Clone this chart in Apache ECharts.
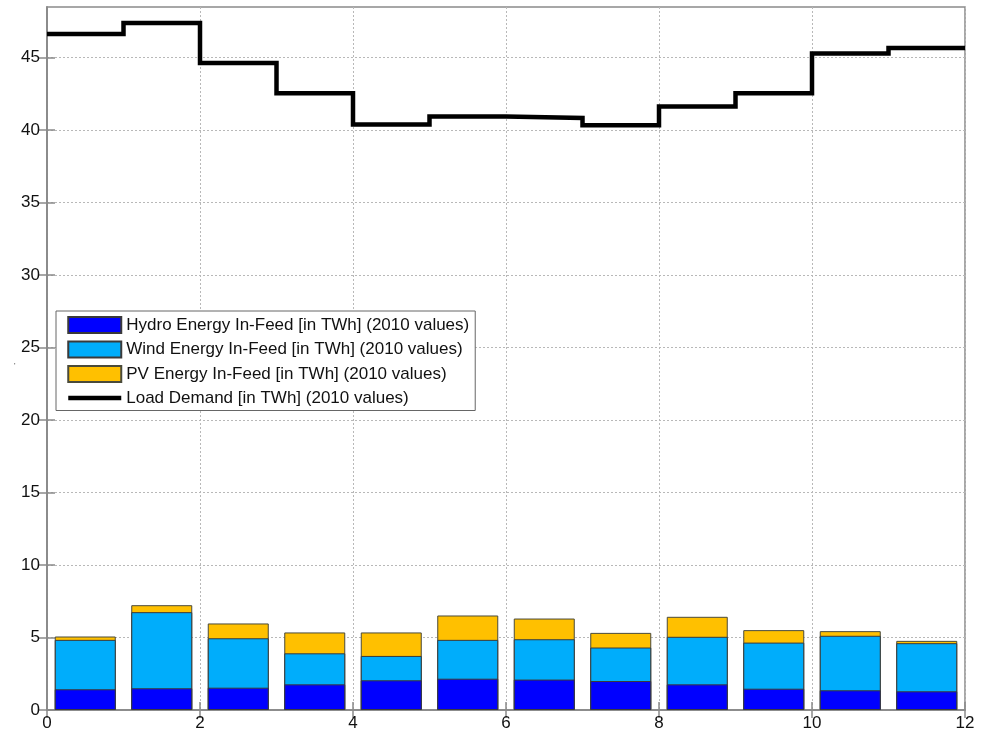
<!DOCTYPE html>
<html>
<head>
<meta charset="utf-8">
<script src="https://cdn.jsdelivr.net/npm/echarts@6/dist/echarts.min.js"></script>
<style>html,body{margin:0;padding:0;background:#fff;}#c{width:985px;height:734px;}</style>
</head>
<body>
<div id="c"></div>
<script>
const months = [0.5, 1.5, 2.5, 3.5, 4.5, 5.5, 6.5, 7.5, 8.5, 9.5, 10.5, 11.5];
const hydro = [1.43, 1.50, 1.54, 1.77, 2.05, 2.16, 2.10, 2.00, 1.77, 1.47, 1.36, 1.29];
const wind  = [3.41, 5.25, 3.41, 2.14, 1.68, 2.68, 2.78, 2.31, 3.28, 3.18, 3.76, 3.32];
const pv    = [0.23, 0.48, 1.02, 1.44, 1.62, 1.68, 1.43, 1.01, 1.38, 0.86, 0.32, 0.16];
const load  = [46.63, 47.39, 44.63, 42.55, 40.40, 40.94, 40.85, 40.34, 41.63, 42.55, 45.30, 45.68];
const yTicks = [0, 5, 10, 15, 20, 25, 30, 35, 40, 45];
const names = [
  'Hydro Energy In-Feed [in TWh] (2010 values)',
  'Wind Energy In-Feed [in TWh] (2010 values)',
  'PV Energy In-Feed [in TWh] (2010 values)',
  'Load Demand [in TWh] (2010 values)'
];

// step line: each month holds its value from month start to month end
const loadPts = [];
load.forEach((v, i) => { loadPts.push([i, v]); loadPts.push([i + 1, v]); });

// stacked tops (drawn as overlapping bars, tallest first)
const hydroTop = hydro.map(v => v);
const windTop = hydro.map((v, i) => v + wind[i]);
const pvTop = hydro.map((v, i) => v + wind[i] + pv[i]);
const pair = arr => months.map((m, i) => [m, +arr[i].toFixed(3)]);

const chart = echarts.init(document.getElementById('c'));
const axisGray = '#8a8a8a';
const font = 'Liberation Sans, Arial, sans-serif';
const barCommon = { type: 'bar', barWidth: 61, barGap: '-100%', xAxisIndex: 0, yAxisIndex: 0 };
const tickCommon = { show: true, inside: true, length: 8, lineStyle: { color: axisGray, width: 1.5 } };
chart.setOption({
  animation: false,
  backgroundColor: '#fff',
  grid: { left: 47, right: 20, top: 7, bottom: 24, show: true,
          borderColor: axisGray, borderWidth: 1.5, backgroundColor: 'transparent' },
  legend: {
    orient: 'vertical', left: 56, top: 311,
    padding: [5, 6, 4, 10],
    itemWidth: 53, itemHeight: 16, itemGap: 6.5,
    borderColor: '#666', borderWidth: 1, backgroundColor: '#fff',
    textStyle: { fontFamily: font, fontSize: 17, lineHeight: 17, color: '#111' },
    data: [
      { name: names[0], icon: 'rect' },
      { name: names[1], icon: 'rect' },
      { name: names[2], icon: 'rect' },
      { name: names[3],
        itemStyle: { color: 'rgba(0,0,0,0)', borderColor: 'rgba(0,0,0,0)', borderWidth: 0 },
        lineStyle: { color: '#000', width: 4.5 } }
    ]
  },
  xAxis: [{
    type: 'value', min: 0, max: 12, interval: 2,
    axisLine: { show: true, onZero: false, lineStyle: { color: axisGray, width: 1.5 } },
    axisTick: tickCommon,
    axisLabel: { fontFamily: font, fontSize: 17, color: '#111', margin: 5 },
    splitLine: { show: true, lineStyle: { type: [2, 2], color: '#b8b8b8', width: 1 } }
  }, {
    type: 'value', min: 0, max: 12, interval: 2, position: 'top',
    axisLine: { show: true, lineStyle: { color: axisGray, width: 1.5 } },
    axisTick: tickCommon,
    axisLabel: { show: false }, splitLine: { show: false }
  }],
  yAxis: [{
    type: 'value', min: 0, max: 48.5, interval: 5,
    axisLine: { show: true, onZero: false, lineStyle: { color: axisGray, width: 1.5 } },
    axisTick: Object.assign({ customValues: yTicks }, tickCommon),
    axisLabel: { fontFamily: font, fontSize: 17, color: '#111', margin: 7, customValues: yTicks },
    splitLine: { show: true, lineStyle: { type: [2, 2], color: '#b8b8b8', width: 1 } }
  }, {
    type: 'value', min: 0, max: 48.5, interval: 5, position: 'right',
    axisLine: { show: true, lineStyle: { color: axisGray, width: 1.5 } },
    axisTick: Object.assign({ customValues: yTicks }, tickCommon),
    axisLabel: { show: false }, splitLine: { show: false }
  }],
  graphic: [{ type: 'text', left: 14, top: 362, style: { text: '\'', fontSize: 8, fill: '#444' } }],
  series: [
    Object.assign({}, barCommon, { name: names[2], data: pair(pvTop),
      itemStyle: { color: '#ffc000', borderColor: '#4a4a3a', borderWidth: 1 } }),
    Object.assign({}, barCommon, { name: names[1], data: pair(windTop),
      itemStyle: { color: '#00adfb', borderColor: '#3a3a3a', borderWidth: 1 } }),
    Object.assign({}, barCommon, { name: names[0], data: pair(hydroTop),
      itemStyle: { color: '#0000ff', borderColor: '#3a3a3a', borderWidth: 1 } }),
    {
      name: names[3], type: 'line', data: loadPts,
      symbol: 'none', showSymbol: false, z: 5,
      lineStyle: { color: '#000', width: 4.5, join: 'miter' }, itemStyle: { color: '#000' }
    }
  ]
});
</script>
</body>
</html>
